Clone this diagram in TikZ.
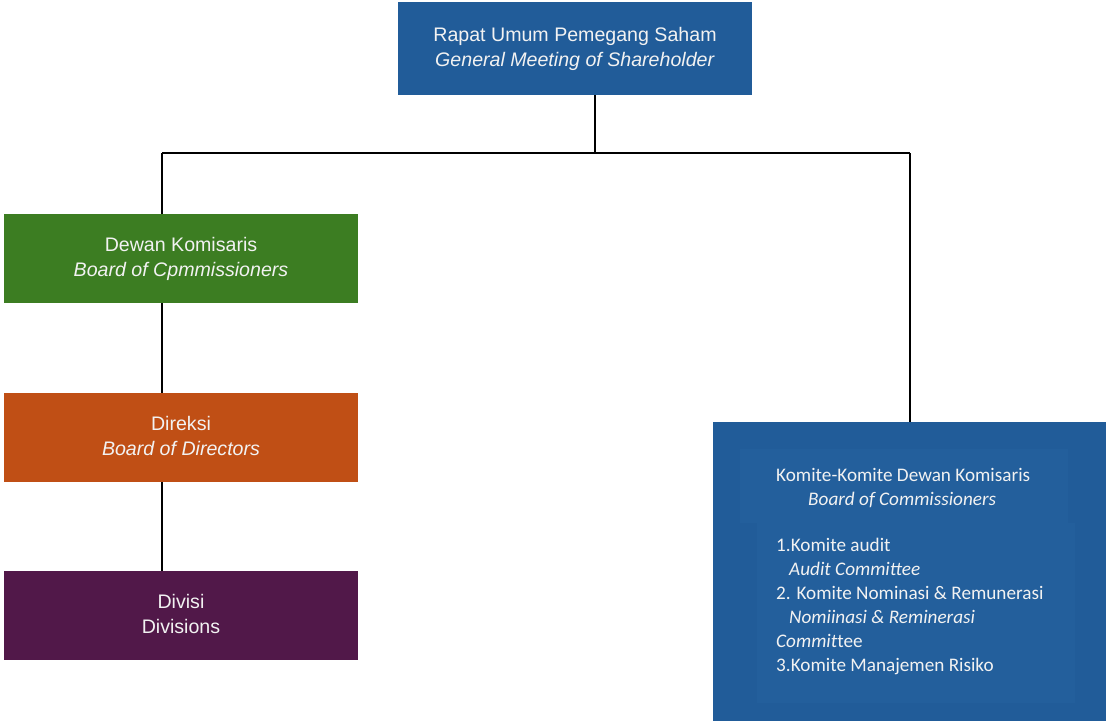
\documentclass[tikz,border=0pt]{standalone}
\usepackage{fontspec}
\setmainfont{Liberation Sans}
\newfontfamily\aptos{Carlito}
\definecolor{cblue}{RGB}{33,92,153}
\definecolor{cblueA}{RGB}{35,95,156}
\definecolor{cgreen}{RGB}{60,125,34}
\definecolor{corange}{RGB}{192,79,21}
\definecolor{cpurple}{RGB}{81,24,73}
\definecolor{ctext}{RGB}{242,242,242}
\newcommand{\twolines}[2]{\raisebox{-3pt}{\begin{tabular}{@{}c@{}}#1\\#2\end{tabular}}}
\tikzset{
  box/.style={rectangle, inner sep=0pt, minimum width=354pt, align=center, text=ctext,
    font=\fontsize{19.6pt}{25pt}\selectfont},
  conn/.style={line width=2pt, black},
}
\begin{document}
\begin{tikzpicture}[x=1pt,y=-1pt]
\useasboundingbox (0,0) rectangle (1106,721);
\node[box, fill=cblue, minimum height=93pt] (rups) at (575,48.5) {\twolines{Rapat Umum Pemegang Saham}{\textit{General Meeting of Shareholder}}};
\node[box, fill=cgreen, minimum height=89pt] (dk) at (181,258.5) {\twolines{Dewan Komisaris}{\textit{Board of Cpmmissioners}}};
\node[box, fill=corange, minimum height=89pt] (dir) at (181,437.5) {\twolines{Direksi}{\textit{Board of Directors}}};
\node[box, fill=cpurple, minimum height=89pt] (div) at (181,615.5) {\twolines{Divisi}{Divisions}};
\node[rectangle, fill=cblue, minimum width=393pt, minimum height=299pt, inner sep=0pt] (kom) at (909.5,571.5) {};
\fill[cblueA] (740,449) rectangle (1068,523);
\fill[cblueA] (757,523) rectangle (1075,703);
\node[anchor=north west, inner sep=0pt, text=ctext, align=left, font=\aptos\fontsize{19.2pt}{24pt}\selectfont] (komtxt) at (776,468)
 {Komite-Komite Dewan Komisaris\\
  \hspace*{32pt}\textit{Board of Commissioners}\\[22pt]
  1.Komite audit\\
  \hspace*{13pt}\textit{Audit Committee}\\
  2. Komite Nominasi \& Remunerasi\\
  \hspace*{13pt}\textit{Nomiinasi \& Reminerasi}\\
  \textit{Commit}tee\\
  3.Komite Manajemen Risiko};
\coordinate (j) at (595,153);
\coordinate (hl) at (162,153);
\coordinate (hr) at (910,153);
\draw[conn] (rups.south -| j) -- (j);
\draw[conn] (hl) -- (hr);
\draw[conn] (hl) -- (hl |- dk.north);
\draw[conn] (hr) -- (hr |- kom.north);
\draw[conn] (hl |- dk.south) -- (hl |- dir.north);
\draw[conn] (hl |- dir.south) -- (hl |- div.north);
\end{tikzpicture}
\end{document}
